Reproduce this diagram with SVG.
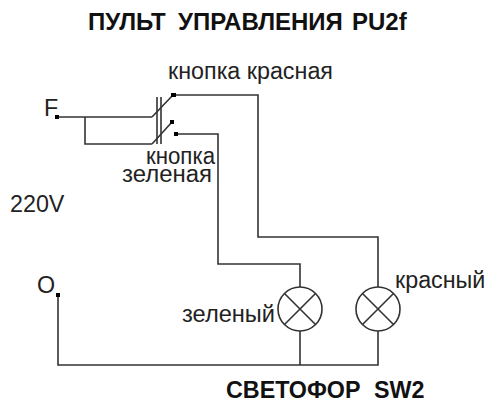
<svg xmlns="http://www.w3.org/2000/svg" width="486" height="402" viewBox="0 0 486 402">
<style>
text{font-family:"Liberation Sans",Arial,sans-serif;font-size:23.300px;fill:#222}
.b{font-weight:bold;fill:#111}
.t{font-size:24px}
.w{fill:none;stroke:#333;stroke-width:1.6}
.d{fill:#000}
</style>
<rect width="486" height="402" fill="#fff"/>
<text class="b t" y="30"><tspan x="88">ПУЛЬТ</tspan> <tspan x="178">УПРАВЛЕНИЯ</tspan> <tspan x="352">PU2f</tspan></text>
<text class="b" y="398"><tspan x="226">СВЕТОФОР</tspan> <tspan x="374">SW2</tspan></text>
<g id="connectors">
<path class="w" d="M57 117H152M85 117V144H152"/>
<path class="w" d="M152 117L173 95H258V237H378V287"/>
<path class="w" d="M152 144L172 122"/>
<path class="w" d="M176 134H218V264H300V287"/>
<path class="w" d="M58 295V365H378V331M300 331V365"/>
<path class="w" d="M157 97V144M161 97V144"/>
</g>
<g id="terminals">
<rect class="d" x="55" y="115" width="4" height="4"/>
<rect class="d" x="171" y="93" width="5" height="4"/>
<rect class="d" x="170" y="120" width="4" height="4"/>
<rect class="d" x="174" y="132" width="4" height="4"/>
<rect class="d" x="56" y="293" width="4" height="4"/>
</g>
<g id="lamp-green">
<circle class="w" cx="300" cy="309" r="22"/>
<path class="w" d="M284.500 293.500L315.500 324.500M315.500 293.500L284.500 324.500"/>
</g>
<g id="lamp-red">
<circle class="w" cx="378" cy="309" r="22"/>
<path class="w" d="M362.500 293.500L393.500 324.500M393.500 293.500L362.500 324.500"/>
</g>
<g id="labels">
<text x="44" y="116">F</text>
<text x="168" y="79">кнопка красная</text>
<text x="146" y="164" textLength="69" lengthAdjust="spacingAndGlyphs">кнопка</text>
<text x="122" y="182" textLength="90" lengthAdjust="spacingAndGlyphs">зеленая</text>
<text x="10" y="212">220V</text>
<text x="37" y="293">O</text>
<text x="182" y="322" textLength="93" lengthAdjust="spacingAndGlyphs">зеленый</text>
<text x="395" y="288">красный</text>
</g>
</svg>
